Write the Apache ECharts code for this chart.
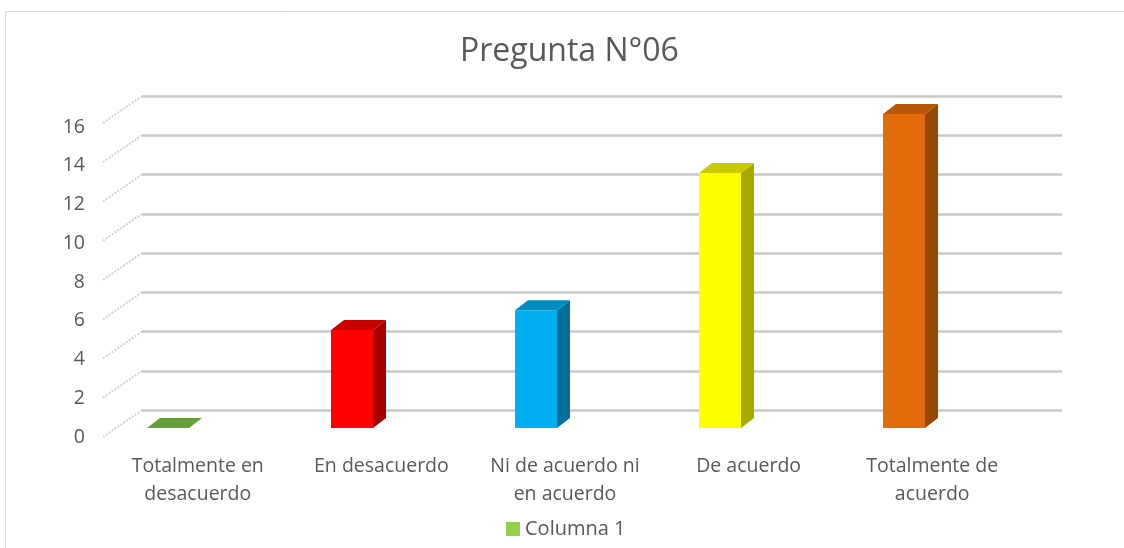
<!DOCTYPE html>
<html>
<head>
<meta charset="utf-8">
<script src="https://cdn.jsdelivr.net/npm/echarts@6/dist/echarts.min.js"></script>
<style>html,body{margin:0;padding:0;background:#fff}#c{width:1124px;height:548px}</style>
</head>
<body>
<div id="c"></div>
<script>
const categories = ['Totalmente en desacuerdo', 'En desacuerdo', 'Ni de acuerdo ni en acuerdo', 'De acuerdo', 'Totalmente de acuerdo'];
const tickLabels = ['Totalmente en\ndesacuerdo', 'En desacuerdo', 'Ni de acuerdo ni\nen acuerdo', 'De acuerdo', 'Totalmente de\nacuerdo'];
const values = [0, 5, 6, 13, 16];
const yTicks = [0, 2, 4, 6, 8, 10, 12, 14, 16];
const seriesName = 'Columna 1';
const titleText = 'Pregunta N°06';

const faceColors = [
  {front: '#70ad47', side: '#4e7a31', top: '#63a03a'},
  {front: '#ff0000', side: '#a50000', top: '#c80000'},
  {front: '#00b0f0', side: '#00709a', top: '#008cc0'},
  {front: '#ffff00', side: '#a8a800', top: '#caca00'},
  {front: '#e36c0a', side: '#974706', top: '#b85708'}
];

const FONT = 'Open Sans';
const TXT = '#595959';
const BAR_DX = -66, BAR_DY = 18, BAR_W = 42, DEP_X = 13, DEP_Y = -10;
const WALL_DX = -39, WALL_DY = 27;

const chart = echarts.init(document.getElementById('c'));
chart.setOption({
  animation: false,
  backgroundColor: '#fff',
  title: {
    text: titleText, left: 455, top: 31,
    textStyle: {fontFamily: FONT, fontSize: 32, fontWeight: 'normal', color: TXT}
  },
  legend: {
    data: [{name: seriesName, itemStyle: {color: '#92d050'}}],
    left: 501, top: 514, itemWidth: 14, itemHeight: 14, itemGap: 7,
    icon: 'rect',
    textStyle: {fontFamily: FONT, fontSize: 20, color: TXT}
  },
  graphic: [{
    type: 'rect', left: 3, top: 9, silent: true,
    shape: {width: 1130, height: 560},
    style: {fill: 'none', stroke: '#d9d9d9', lineWidth: 1}
  }],
  grid: [
    {left: 142, right: 62, top: 96, bottom: 138},
    {left: 106, right: 100, top: 127, bottom: 111}
  ],
  xAxis: [
    {type: 'category', gridIndex: 0, data: categories, boundaryGap: true,
     axisLine: {show: false}, axisTick: {show: false}, axisLabel: {show: false}},
    {type: 'category', gridIndex: 1, data: categories, boundaryGap: true,
     axisLine: {show: false}, axisTick: {show: false},
     axisLabel: {
       margin: 15, interval: 0, color: TXT, fontFamily: FONT, fontSize: 19.5, lineHeight: 28,
       formatter: (v, i) => tickLabels[i]
     }}
  ],
  yAxis: [
    {type: 'value', gridIndex: 0, min: 0, max: 16, interval: 2,
     axisLine: {show: false}, axisTick: {show: false}, axisLabel: {show: false},
     splitLine: {show: true, lineStyle: {color: '#c9c9c9', width: 2.5}}},
    {type: 'value', gridIndex: 1, min: 0, max: 16, interval: 2,
     axisLine: {show: false}, axisTick: {show: false}, splitLine: {show: false},
     axisLabel: {margin: 21, color: TXT, fontFamily: FONT, fontSize: 19.5}}
  ],
  series: [
    {
      type: 'custom', name: 'wall', xAxisIndex: 0, yAxisIndex: 0, silent: true,
      data: yTicks.map(v => [0, v]),
      encode: {x: 0, y: 1},
      renderItem: function (params, api) {
        const p = api.coord([api.value(0), api.value(1)]);
        const band = api.size([1, 0])[0];
        const x0 = p[0] - band / 2;
        return {
          type: 'line',
          shape: {x1: x0 + WALL_DX, y1: p[1] + WALL_DY, x2: x0, y2: p[1]},
          style: {stroke: '#d3d3d3', lineWidth: 2, lineDash: [2, 1.5]}
        };
      }
    },
    {
      type: 'custom', name: seriesName, xAxisIndex: 0, yAxisIndex: 0,
      data: values.map((v, i) => [i, v]),
      encode: {x: 0, y: 1},
      renderItem: function (params, api) {
        const i = api.value(0);
        const base = api.coord([i, 0]);
        const top = api.coord([i, api.value(1)]);
        const cx = base[0] + BAR_DX;
        const by = base[1] + BAR_DY;
        const ty = top[1] + BAR_DY;
        const xl = cx - BAR_W / 2, xr = cx + BAR_W / 2;
        const c = faceColors[i];
        const children = [];
        if (by - ty > 0.5) {
          children.push({type: 'rect', shape: {x: xl, y: ty, width: BAR_W, height: by - ty}, style: {fill: c.front}});
          children.push({type: 'polygon', shape: {points: [[xr, ty], [xr + DEP_X, ty + DEP_Y], [xr + DEP_X, by + DEP_Y], [xr, by]]}, style: {fill: c.side}});
        }
        children.push({type: 'polygon', shape: {points: [[xl, ty], [xl + DEP_X, ty + DEP_Y], [xr + DEP_X, ty + DEP_Y], [xr, ty]]}, style: {fill: c.top}});
        return {type: 'group', children: children};
      }
    }
  ]
});
</script>
</body>
</html>
